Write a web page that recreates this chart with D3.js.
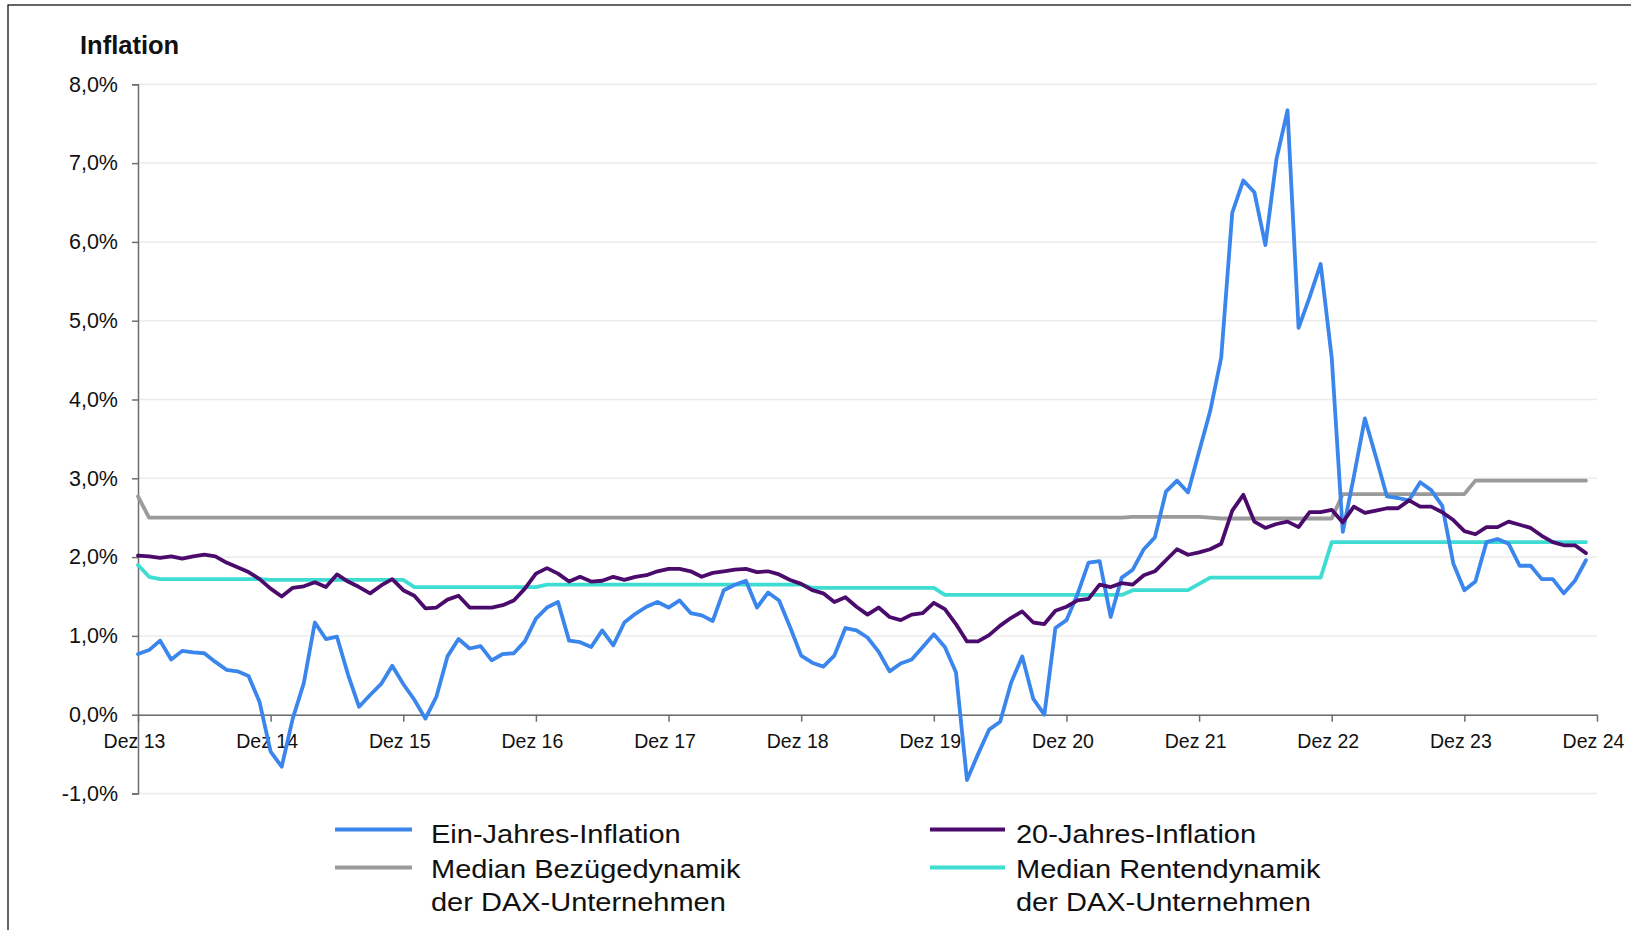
<!DOCTYPE html>
<html>
<head>
<meta charset="utf-8">
<script src="https://cdn.jsdelivr.net/npm/d3@7"></script>
<style>
  body { margin: 0; background: #fff; }
  text { font-family: "Liberation Sans", Arial, sans-serif; fill: #111; }
</style>
</head>
<body>
<svg id="chart" width="1631" height="930"></svg>
<script>
// x axis labels, one per December (month index 0, 12, 24, ...)
var yearLabels = ["Dez 13","Dez 14","Dez 15","Dez 16","Dez 17","Dez 18","Dez 19","Dez 20","Dez 21","Dez 22","Dez 23","Dez 24"];
var yTicks = [-1,0,1,2,3,4,5,6,7,8];

// monthly values Dez 13 .. Nov 24, in %
var einJahresInflation = [
  0.77,0.82,0.94,0.70,0.81,0.79,0.78,0.67,0.57,0.55,0.49,0.16,
  -0.47,-0.66,-0.05,0.40,1.17,0.96,0.99,0.51,0.10,0.25,0.39,0.62,
  0.39,0.19,-0.05,0.23,0.74,0.96,0.84,0.87,0.69,0.77,0.78,0.93,
  1.22,1.36,1.43,0.94,0.92,0.86,1.07,0.88,1.17,1.28,1.37,1.43,
  1.36,1.45,1.29,1.26,1.19,1.58,1.65,1.70,1.36,1.55,1.45,1.11,
  0.75,0.66,0.61,0.75,1.10,1.07,0.98,0.80,0.55,0.65,0.70,0.86,
  1.02,0.86,0.54,-0.83,-0.50,-0.19,-0.09,0.41,0.74,0.20,0.00,1.10,
  1.20,1.53,1.93,1.95,1.24,1.74,1.84,2.10,2.25,2.83,2.97,2.82,
  3.34,3.85,4.53,6.37,6.78,6.63,5.96,7.05,7.67,4.91,5.30,5.72,
  4.53,2.32,3.02,3.76,3.27,2.77,2.75,2.72,2.95,2.85,2.65,1.92,
  1.58,1.69,2.19,2.23,2.17,1.89,1.89,1.72,1.72,1.54,1.70,1.96
];
var zwanzigJahresInflation = [
  2.02,2.01,1.99,2.01,1.98,2.01,2.03,2.01,1.93,1.87,1.81,1.72,
  1.60,1.50,1.61,1.63,1.68,1.62,1.78,1.69,1.62,1.54,1.64,1.72,
  1.58,1.51,1.35,1.36,1.46,1.51,1.36,1.36,1.36,1.39,1.45,1.60,
  1.79,1.86,1.79,1.69,1.75,1.69,1.70,1.75,1.71,1.75,1.77,1.82,
  1.85,1.85,1.82,1.75,1.80,1.82,1.84,1.85,1.81,1.82,1.78,1.71,
  1.66,1.58,1.54,1.43,1.49,1.37,1.27,1.36,1.24,1.20,1.27,1.29,
  1.42,1.34,1.15,0.93,0.93,1.01,1.13,1.23,1.31,1.17,1.15,1.32,
  1.37,1.45,1.47,1.65,1.62,1.67,1.65,1.77,1.82,1.96,2.10,2.03,
  2.06,2.10,2.17,2.59,2.79,2.45,2.37,2.42,2.45,2.38,2.57,2.57,
  2.60,2.44,2.64,2.56,2.59,2.62,2.62,2.72,2.64,2.64,2.57,2.47,
  2.33,2.29,2.38,2.38,2.45,2.41,2.37,2.27,2.19,2.15,2.15,2.05
];
var medianBezuege = [
  2.77,2.50,2.50,2.50,2.50,2.50,2.50,2.50,2.50,2.50,2.50,2.50,
  2.50,2.50,2.50,2.50,2.50,2.50,2.50,2.50,2.50,2.50,2.50,2.50,
  2.50,2.50,2.50,2.50,2.50,2.50,2.50,2.50,2.50,2.50,2.50,2.50,
  2.50,2.50,2.50,2.50,2.50,2.50,2.50,2.50,2.50,2.50,2.50,2.50,
  2.50,2.50,2.50,2.50,2.50,2.50,2.50,2.50,2.50,2.50,2.50,2.50,
  2.50,2.50,2.50,2.50,2.50,2.50,2.50,2.50,2.50,2.50,2.50,2.50,
  2.50,2.50,2.50,2.50,2.50,2.50,2.50,2.50,2.50,2.50,2.50,2.50,
  2.50,2.50,2.50,2.50,2.50,2.50,2.51,2.51,2.51,2.51,2.51,2.51,
  2.51,2.50,2.49,2.49,2.49,2.49,2.49,2.49,2.49,2.49,2.49,2.49,
  2.49,2.80,2.80,2.80,2.80,2.80,2.80,2.80,2.80,2.80,2.80,2.80,
  2.80,2.97,2.97,2.97,2.97,2.97,2.97,2.97,2.97,2.97,2.97,2.97
];
var medianRenten = [
  1.90,1.75,1.72,1.72,1.72,1.72,1.72,1.72,1.72,1.72,1.72,1.72,
  1.71,1.71,1.71,1.71,1.71,1.71,1.71,1.71,1.71,1.71,1.71,1.71,
  1.71,1.62,1.62,1.62,1.62,1.62,1.62,1.62,1.62,1.62,1.62,1.62,
  1.62,1.65,1.65,1.65,1.65,1.65,1.65,1.65,1.65,1.65,1.65,1.65,
  1.65,1.65,1.65,1.65,1.65,1.65,1.65,1.65,1.65,1.65,1.65,1.65,
  1.65,1.61,1.61,1.61,1.61,1.61,1.61,1.61,1.61,1.61,1.61,1.61,
  1.61,1.52,1.52,1.52,1.52,1.52,1.52,1.52,1.52,1.52,1.52,1.52,
  1.52,1.52,1.52,1.52,1.52,1.52,1.58,1.58,1.58,1.58,1.58,1.58,
  1.66,1.74,1.74,1.74,1.74,1.74,1.74,1.74,1.74,1.74,1.74,1.74,
  2.19,2.19,2.19,2.19,2.19,2.19,2.19,2.19,2.19,2.19,2.19,2.19,
  2.19,2.19,2.19,2.19,2.19,2.19,2.19,2.19,2.19,2.19,2.19,2.19
];

var seriesNames = ["Ein-Jahres-Inflation", "20-Jahres-Inflation",
                   ["Median Bezügedynamik", "der DAX-Unternehmen"],
                   ["Median Rentendynamik", "der DAX-Unternehmen"]];
var seriesColors = ["#3a86ec", "#4b0b6d", "#9b9b9b", "#3fdcd2"];

var svg = d3.select("#chart");

// frame around the whole graphic
svg.append("rect")
  .attr("x", 8).attr("y", 5)
  .attr("width", 1660).attr("height", 960)
  .attr("fill", "#fff")
  .attr("stroke", "#000")
  .attr("stroke-width", 1.2);

const margin = {left: 138, right: 1597, top: 84.3, bottom: 793.5};

const x = d3.scaleLinear()
  .domain([0, 132])
  .range([margin.left, margin.right]);

const y = d3.scaleLinear()
  .domain([-1, 8])
  .range([margin.bottom, margin.top]);

// German style percent, plain hyphen for negatives
const fmt = v => v.toFixed(1).replace(".", ",") + "%";

// gridlines
svg.append("g")
  .selectAll("line")
  .data(yTicks)
  .join("line")
  .attr("x1", margin.left).attr("x2", margin.right)
  .attr("y1", d => y(d)).attr("y2", d => y(d))
  .attr("stroke", "#ebebeb")
  .attr("stroke-width", 1.5);

// y axis
const yAxis = svg.append("g")
  .attr("transform", `translate(${margin.left},0)`)
  .call(d3.axisLeft(y).tickValues(yTicks).tickFormat(fmt).tickSize(6).tickPadding(14));
yAxis.select(".domain").attr("stroke", "#6e6e6e").attr("stroke-width", 1.5);
yAxis.selectAll(".tick line").attr("stroke", "#6e6e6e").attr("stroke-width", 1.5);
yAxis.selectAll(".tick text")
  .style("font-size", "21.5px")
  .attr("fill", "#111");

// x axis on the zero line
const xAxis = svg.append("g")
  .attr("transform", `translate(0,${y(0)})`)
  .call(d3.axisBottom(x)
    .tickValues(yearLabels.map((d, i) => i * 12))
    .tickFormat((d, i) => yearLabels[i])
    .tickSize(7).tickPadding(12)
    .tickSizeOuter(0));
xAxis.select(".domain").attr("stroke", "#6e6e6e").attr("stroke-width", 1.5);
xAxis.selectAll(".tick line").attr("stroke", "#6e6e6e").attr("stroke-width", 1.5);
xAxis.selectAll(".tick text")
  .attr("x", -4)
  .style("font-size", "19.5px")
  .attr("fill", "#111");

// title
svg.append("text")
  .attr("x", 80).attr("y", 54)
  .style("font-size", "25.5px")
  .style("font-weight", "bold")
  .text("Inflation");

// lines
const line = d3.line()
  .x((d, i) => x(i))
  .y(d => y(d));

const allSeries = [einJahresInflation, zwanzigJahresInflation, medianBezuege, medianRenten];
const drawOrder = [2, 3, 0, 1];

svg.append("g")
  .selectAll("path")
  .data(drawOrder)
  .join("path")
  .attr("d", k => line(allSeries[k]))
  .attr("fill", "none")
  .attr("stroke", k => seriesColors[k])
  .attr("stroke-width", 3.8)
  .attr("stroke-linejoin", "round")
  .attr("stroke-linecap", "round");

// legend
const legendPos = [
  {lx1: 335, lx2: 412, ly: 829.5, tx: 431, ty: 843},
  {lx1: 930, lx2: 1005, ly: 829.5, tx: 1016, ty: 843},
  {lx1: 335, lx2: 412, ly: 867.5, tx: 431, ty: 877.5},
  {lx1: 930, lx2: 1005, ly: 867.5, tx: 1016, ty: 877.5}
];

const legend = svg.append("g");
seriesNames.forEach((name, k) => {
  const p = legendPos[k];
  legend.append("line")
    .attr("x1", p.lx1).attr("x2", p.lx2)
    .attr("y1", p.ly).attr("y2", p.ly)
    .attr("stroke", seriesColors[k])
    .attr("stroke-width", 4);
  const lines = Array.isArray(name) ? name : [name];
  const t = legend.append("text")
    .attr("transform", `translate(${p.tx},${p.ty}) scale(1.16,1)`)
    .style("font-size", "25px");
  lines.forEach((s, j) => {
    t.append("tspan").attr("x", 0).attr("y", j * 34).text(s);
  });
});
</script>
</body>
</html>
